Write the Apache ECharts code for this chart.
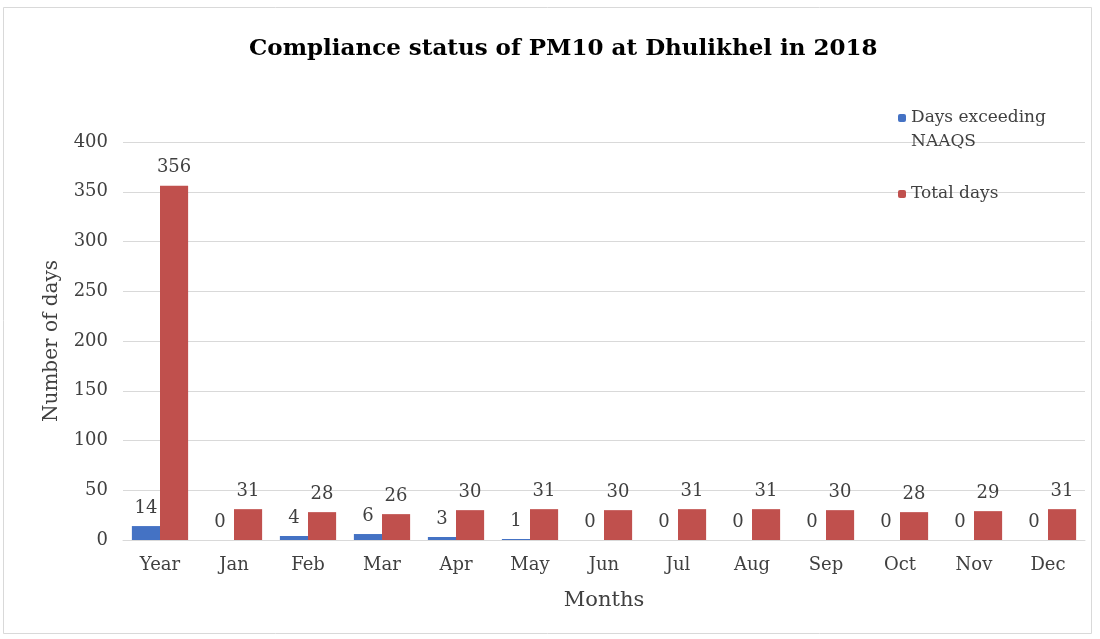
<!DOCTYPE html>
<html><head><meta charset="utf-8">
<script src="https://cdn.jsdelivr.net/npm/echarts@6/dist/echarts.min.js"></script>
<style>html,body{margin:0;padding:0;background:#fff}#c{width:1100px;height:639px}</style>
</head><body><div id="c"></div>
<script>
const categories = ['Year','Jan','Feb','Mar','Apr','May','Jun','Jul','Aug','Sep','Oct','Nov','Dec'];
const exceedingDays = [14,0,4,6,3,1,0,0,0,0,0,0,0];
const totalDays = [356,31,28,26,30,31,30,31,31,30,28,29,31];
const yTicks = [0,50,100,150,200,250,300,350,400];

const FONT = 'DejaVu Serif';
const TXT = '#404040';
const chart = echarts.init(document.getElementById('c'));
chart.setOption({
  backgroundColor: '#fff',
  animation: false,
  graphic: [{type:'rect', shape:{x:3.5,y:7.5,width:1088,height:626}, style:{fill:'none', stroke:'#d9d9d9', lineWidth:1}, silent:true}],
  title: {text:'Compliance status of PM10 at Dhulikhel in 2018', left:244, top:33,
    textStyle:{fontFamily:FONT, fontWeight:'bold', fontSize:23, color:'#000'}},
  legend: [
    {orient:'vertical', left:898, top:82, padding:0, itemWidth:8, itemHeight:8, data:['Days exceeding NAAQS'],
     formatter: () => ' \nDays exceeding\nNAAQS',
     textStyle:{fontFamily:FONT, fontSize:17, color:TXT, lineHeight:24}},
    {orient:'vertical', left:898, top:182, padding:0, itemWidth:8, itemHeight:8, data:['Total days'],
     textStyle:{fontFamily:FONT, fontSize:17, color:TXT, lineHeight:24}}
  ],
  grid: {left:123, right:15, top:142, bottom:99, containLabel:false},
  xAxis: {type:'category', data:categories, name:'Months', nameLocation:'middle', nameGap:50,
    nameTextStyle:{fontFamily:FONT, fontSize:21, color:TXT},
    axisLine:{lineStyle:{color:'#d9d9d9'}}, axisTick:{show:false},
    axisLabel:{fontFamily:FONT, fontSize:18, color:TXT, margin:16}},
  yAxis: {type:'value', min:yTicks[0], max:yTicks[yTicks.length-1], interval:50, name:'Number of days',
    nameLocation:'middle', nameGap:61, nameTextStyle:{fontFamily:FONT, fontSize:20, color:TXT},
    axisLine:{show:false}, axisTick:{show:false},
    splitLine:{lineStyle:{color:'#d9d9d9'}},
    axisLabel:{fontFamily:FONT, fontSize:18, color:TXT, margin:15}},
  series: [
    {name:'Days exceeding NAAQS', type:'bar', data:exceedingDays, barGap:'0%', barCategoryGap:'24%',
     itemStyle:{color:'#4472C4'},
     label:{show:true, position:'top', distance:9, fontFamily:FONT, fontSize:18, color:TXT}},
    {name:'Total days', type:'bar', data:totalDays, barGap:'0%', barCategoryGap:'24%',
     itemStyle:{color:'#C0504D'},
     label:{show:true, position:'top', distance:9, fontFamily:FONT, fontSize:18, color:TXT}}
  ]
});
</script></body></html>
